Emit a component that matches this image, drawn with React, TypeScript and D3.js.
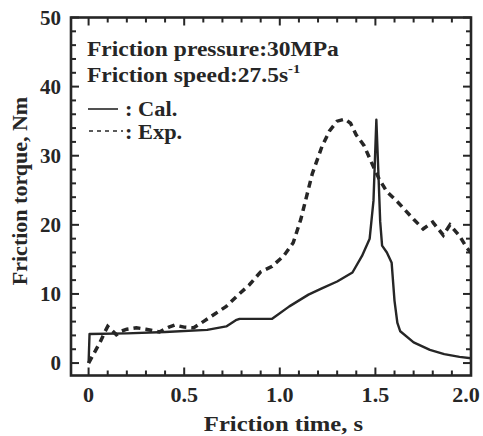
import React from "react";
import * as d3 from "d3";

const calT = [0, 0.005, 0.2, 0.4, 0.62, 0.72, 0.77, 0.79, 0.96, 1.05, 1.15, 1.22, 1.3, 1.38, 1.43, 1.47, 1.49, 1.505, 1.515, 1.525, 1.535, 1.56, 1.585, 1.6, 1.615, 1.63, 1.7, 1.785, 1.86, 1.94, 2.0];
const calV = [0, 4.2, 4.3, 4.5, 4.8, 5.3, 6.2, 6.4, 6.4, 8.2, 9.9, 10.8, 11.8, 13.1, 15.5, 18, 23.5, 35.2, 28, 20.5, 17, 16, 14.5, 9, 5.8, 4.6, 3.0, 1.9, 1.3, 0.9, 0.7];

const expT = [0, 0.03, 0.06, 0.085, 0.1, 0.12, 0.145, 0.17, 0.2, 0.25, 0.3, 0.37, 0.42, 0.45, 0.5, 0.55, 0.6, 0.66, 0.72, 0.78, 0.84, 0.9, 0.96, 1.02, 1.07, 1.11, 1.17, 1.22, 1.26, 1.3, 1.34, 1.37, 1.4, 1.44, 1.48, 1.52, 1.56, 1.62, 1.7, 1.75, 1.8, 1.855, 1.89, 1.94, 1.98, 2.0];
const expV = [0, 1.5, 3, 4.5, 5.3, 4.8, 4.1, 4.6, 4.9, 5.1, 4.9, 4.5, 5.2, 5.5, 5.2, 5.1, 6.0, 7.1, 8.2, 9.8, 11.3, 13.2, 14, 15.5, 17.4, 20.8, 27.4, 31.3, 33.6, 35, 35.3, 34.7, 33, 31.5, 29, 26.6, 24.8, 23.2, 20.8, 19.4, 20.4, 18.5, 20, 18.4, 16.6, 16.0];

const xTicks = [0, 0.5, 1.0, 1.5, 2.0];
const xTickLabels = ["0", "0.5", "1.0", "1.5", "2.0"];
const yTicks = [0, 10, 20, 30, 40, 50];
const xMinor = d3.range(0, 21).map((i) => i / 10);
const yMinor = d3.range(0, 26).map((i) => i * 2);

const ink = "#262626";
const font = "'Liberation Serif', 'Times New Roman', serif";

function Wide({ x, y, sx, anchor, size, children }: any) {
  return (
    <g transform={`translate(${x},${y}) scale(${sx},1)`}>
      <text x={0} y={0} textAnchor={anchor || "start"} fontSize={size}>
        {children}
      </text>
    </g>
  );
}

export default function App() {
  const L = 71, R = 471, T = 17.5, B = 375.5;
  const x = d3.scaleLinear().domain([-0.092, 2.0]).range([L, R]);
  const y = d3.scaleLinear().domain([-1.8, 50]).range([B, T]);
  const line = d3.line<[number, number]>().x((d) => x(d[0])).y((d) => y(d[1]));
  const cal = calT.map((t, i) => [t, calV[i]] as [number, number]);
  const exp = expT.map((t, i) => [t, expV[i]] as [number, number]);

  return (
    <svg width={483} height={436} style={{ position: "absolute", left: 0, top: 0, background: "#fff" }}>
      <defs>
        <clipPath id="clip">
          <rect x={L} y={T} width={R - L} height={B - T} />
        </clipPath>
      </defs>
      {xMinor.map((t, i) => {
        const major = i % 5 === 0;
        const len = major ? 8 : 5;
        return (
          <g key={"xt" + i} stroke={ink} strokeWidth={2}>
            <line x1={x(t)} x2={x(t)} y1={B} y2={B - len} />
            <line x1={x(t)} x2={x(t)} y1={T} y2={T + len} />
          </g>
        );
      })}
      {yMinor.map((v, i) => {
        const major = i % 5 === 0;
        const len = major ? 8 : 5;
        return (
          <g key={"yt" + i} stroke={ink} strokeWidth={2}>
            <line x1={L} x2={L + len} y1={y(v)} y2={y(v)} />
            <line x1={R} x2={R - len} y1={y(v)} y2={y(v)} />
          </g>
        );
      })}
      <g clipPath="url(#clip)" fill="none" stroke={ink}>
        <path d={line(exp) || ""} strokeWidth={3.5} strokeDasharray="7 5" />
        <path d={line(cal) || ""} strokeWidth={2.4} strokeLinejoin="round" />
      </g>
      <rect x={L} y={T} width={R - L} height={B - T} fill="none" stroke={ink} strokeWidth={2.6} />
      <g fontFamily={font} fontWeight="bold" fontSize={21} fill={ink}>
        {xTicks.map((t, i) => (
          <Wide key={"xl" + i} x={Math.min(x(t), 466)} y={402} sx={1.05} anchor="middle" size={21}>
            {xTickLabels[i]}
          </Wide>
        ))}
        {yTicks.map((v, i) => (
          <text key={"yl" + i} x={61} y={y(v) + 7} textAnchor="end">
            {v}
          </text>
        ))}
      </g>
      <g fontFamily={font} fontWeight="bold" fill={ink}>
        <Wide x={283.5} y={431} sx={1.12} anchor="middle" size={22}>Friction time, s</Wide>
        <text fontSize={22} transform={`translate(27,191) rotate(-90)`} textAnchor="middle">Friction torque, Nm</text>
      </g>
      <g fontFamily={font} fontWeight="bold" fill={ink}>
        <Wide x={87} y={56} sx={1.12} size={21}>Friction pressure:30MPa</Wide>
        <Wide x={87} y={82} sx={1.12} size={21}>
          Friction speed:27.5s
          <tspan fontSize={13} dy={-9}>-1</tspan>
        </Wide>
        <line x1={88} x2={118} y1={109} y2={109} stroke={ink} strokeWidth={1.6} />
        <Wide x={125} y={116} sx={1.12} size={20}>: Cal.</Wide>
        <line x1={89} x2={123} y1={131} y2={131} stroke={ink} strokeWidth={1.6} strokeDasharray="4 4" />
        <Wide x={125} y={138.5} sx={1.12} size={20}>: Exp.</Wide>
      </g>
    </svg>
  );
}
